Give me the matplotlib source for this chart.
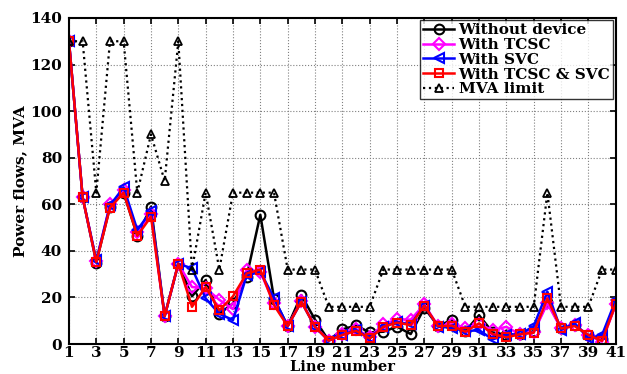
import numpy as np
import matplotlib
matplotlib.use("Agg")
import matplotlib.pyplot as plt

# Line numbers
lines = np.arange(1, 42)

# Power flows (MVA)
without_device = [130, 63, 35, 59, 65, 46.5, 59, 12, 34.5, 20.5,
                  27.5, 13, 17.5, 29, 55.5, 19.5, 7.7, 21, 10.5, 1.5,
                  6.3, 8, 5, 5.3, 7.5, 4.3, 15.5, 7.8, 10.3, 5.5,
                  12.4, 5, 4, 4.2, 5.5, 18, 7, 8, 3.9, 2, 17]
with_tcsc = [130, 63, 35.5, 60, 66, 48, 56, 12, 34.5, 24.5,
             24, 19, 15, 32, 31, 17.5, 7.7, 18.5, 7.5, 1.5,
             4.5, 6.5, 3, 8.5, 10.6, 10.5, 17, 7.8, 8.5, 7,
             8.5, 6, 7.4, 4.2, 5, 17.5, 6.7, 8, 3.9, 1, 17]
with_svc = [130, 63, 36, 59.5, 67.3, 49, 57, 12, 34.5, 32.5,
            19.6, 13, 10.3, 29.5, 31, 19.8, 7.7, 18.2, 7.4, 1.5,
            4, 6, 2.6, 7.5, 9.5, 8.5, 16.5, 7.5, 7, 5.5,
            6, 2, 4, 4.2, 7.7, 22.5, 6, 9, 2.5, 3.9, 18.9]
with_both = [130, 63, 35.3, 58.5, 65, 46.5, 54.7, 12, 34.5, 16,
             24.5, 14.5, 20.5, 30.3, 32, 16.7, 7.7, 18.2, 7.4, 1.5,
             3.9, 5.7, 2.4, 7.4, 9.2, 8.2, 16.5, 7.7, 7.9, 5.3,
             8.9, 4.3, 2.9, 4.2, 4.9, 19.6, 6.7, 7.7, 3.9, 1.4, 17.2]
mva_limit = [130, 130, 65, 130, 130, 65, 90, 70, 130, 32,
             65, 32, 65, 65, 65, 65, 32, 32, 32, 16,
             16, 16, 16, 32, 32, 32, 32, 32, 32, 16,
             16, 16, 16, 16, 16, 65, 16, 16, 16, 32, 32]

plt.rcParams['font.family'] = ['DejaVu Serif']
plt.rcParams['font.weight'] = 'bold'

fig = plt.figure(figsize=(6.27, 3.74), dpi=100)
ax = fig.add_axes([0.110, 0.080, 0.872, 0.872])

ax.plot(lines, without_device, color="black", lw=1.8, marker="o", ms=7,
        mfc="none", mew=1.5, label="Without device")
ax.plot(lines, with_tcsc, color="magenta", lw=1.8, marker="D", ms=6,
        mfc="none", mew=1.5, label="With TCSC")
ax.plot(lines, with_svc, color="blue", lw=1.8, marker="<", ms=7,
        mfc="none", mew=1.5, label="With SVC")
ax.plot(lines, with_both, color="red", lw=1.8, marker="s", ms=6,
        mfc="none", mew=1.5, label="With TCSC & SVC")
ax.plot(lines, mva_limit, color="black", lw=1.6, ls=":", marker="^", ms=6,
        mfc="none", mew=1.3, label="MVA limit")

ax.set_xlim(1, 41)
ax.set_ylim(0, 140)
ax.set_xticks(np.arange(1, 42, 2))
ax.set_yticks(np.arange(0, 141, 20))
ax.tick_params(direction="in", top=True, right=True, labelsize=11,
               width=1.2, length=4)
ax.tick_params(axis="x", pad=1.5)
ax.tick_params(axis="y", pad=5)
for lab in ax.get_xticklabels() + ax.get_yticklabels():
    lab.set_fontweight("bold")
ax.grid(True, ls=":", color="gray", lw=0.8)
for sp in ax.spines.values():
    sp.set_linewidth(1.5)

ax.set_xlabel("Line number", fontsize=10.5, fontweight="bold", labelpad=0)
ax.set_ylabel("Power flows, MVA", fontsize=11, fontweight="bold", labelpad=2)

leg = ax.legend(loc="upper right", handlelength=2.0,
                borderpad=0.2, labelspacing=0.05, handletextpad=0.3,
                borderaxespad=0.15, fancybox=False, edgecolor="black",
                prop={"weight": "bold", "size": 11})
leg.get_frame().set_linewidth(1.0)

fig.savefig("out.png", dpi=100)
